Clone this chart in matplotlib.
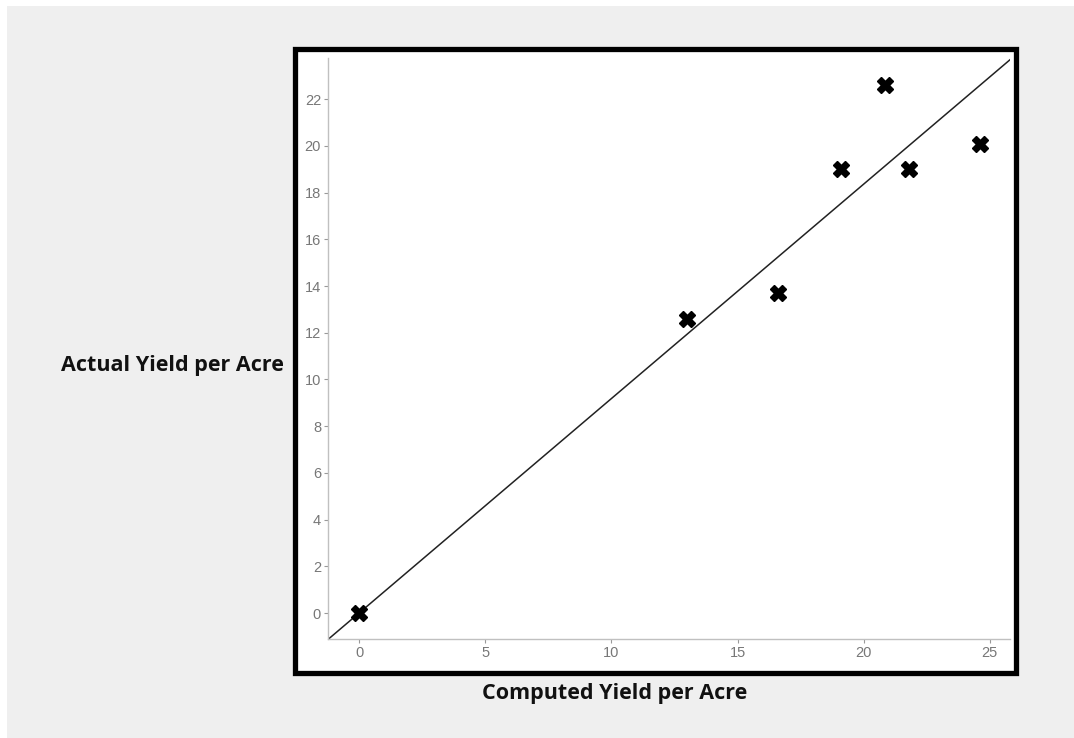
import numpy as np
import matplotlib
matplotlib.use("Agg")
import matplotlib.pyplot as plt
from matplotlib.patches import Rectangle

computed = [0.0, 13.0, 16.6, 19.1, 20.85, 21.8, 24.6]
actual = [0.0, 12.6, 13.7, 19.0, 22.6, 19.0, 20.1]
x_ticks = [0, 5, 10, 15, 20, 25]
y_ticks = [0, 2, 4, 6, 8, 10, 12, 14, 16, 18, 20, 22]
xlim = (-1.23, 25.8)
ylim = (-1.11, 23.76)

W, H = 1074, 738
fig = plt.figure(figsize=(W / 100, H / 100), dpi=100)
fig.patch.set_facecolor("white")

def px(x0, y0, x1, y1):
    return (x0 / W, 1 - y1 / H, (x1 - x0) / W, (y1 - y0) / H)

l, b, w, h = px(7, 6, W + 2, H + 2)
fig.patches.append(Rectangle((l, b), w, h, transform=fig.transFigure,
                             facecolor="#efefef", edgecolor="none", zorder=0))
l, b, w, h = px(294.5, 48.5, 1015.5, 672.5)
fig.patches.append(Rectangle((l, b), w, h, transform=fig.transFigure,
                             facecolor="white", edgecolor="black", linewidth=3.8, zorder=1))

ax = fig.add_axes(px(328, 58, 1010, 639))
ax.set_zorder(5)
ax.set_facecolor("none")

# regression line through origin
xs = np.array(computed)
ys = np.array(actual)
slope = (xs * ys).sum() / (xs * xs).sum()
lx = np.array(xlim)
ax.plot(lx, slope * lx, color="#222222", linewidth=1.1, zorder=2)

ax.plot(computed, actual, linestyle="none", marker="X", markersize=11,
        color="black", markeredgecolor="black", zorder=3)

ax.set_xlim(*xlim)
ax.set_ylim(*ylim)
ax.set_xticks(x_ticks)
ax.set_yticks(y_ticks)
for s in ["top", "right"]:
    ax.spines[s].set_visible(False)
for s in ["left", "bottom"]:
    ax.spines[s].set_color("#c0c0c0")
    ax.spines[s].set_linewidth(1.0)
ax.tick_params(colors="#999999", labelcolor="#777777", length=3, width=0.8,
               labelsize=10.5, pad=2)
for t in ax.get_xticklabels() + ax.get_yticklabels():
    t.set_fontfamily("Liberation Sans")

fig.text(284 / W, 1 - 365 / H, "Actual Yield per Acre", ha="right", va="center",
         fontsize=15.5, fontweight="bold", family="Open Sans", color="#111111")
fig.text(615 / W, 1 - 693 / H, "Computed Yield per Acre", ha="center", va="center",
         fontsize=15.5, fontweight="bold", family="Open Sans", color="#111111")

fig.savefig("out.png", dpi=100)
